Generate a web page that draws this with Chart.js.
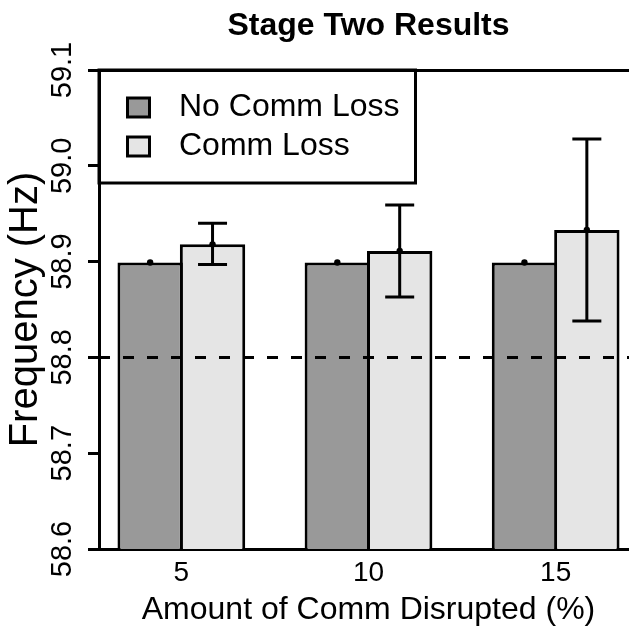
<!DOCTYPE html>
<html><head><meta charset="utf-8">
<script src="https://cdn.jsdelivr.net/npm/chart.js@4/dist/chart.umd.min.js"></script>
<style>
html,body{margin:0;padding:0;background:#fff;overflow:hidden;}
#wrap{width:629px;height:631px;overflow:hidden;position:relative;background:#fff;}
canvas{display:block;}
</style></head><body>
<div id="wrap"><canvas id="c" width="660" height="631"></canvas></div>
<script>
// ---- data ----
const categories = ['5', '10', '15'];
const seriesNames = ['No Comm Loss', 'Comm Loss'];
const noLossMean = [58.899, 58.899, 58.899];
const noLossLow  = [58.899, 58.899, 58.899];
const noLossHigh = [58.899, 58.899, 58.899];
const lossMean = [58.918, 58.911, 58.933];
const lossLow  = [58.897, 58.863, 58.838];
const lossHigh = [58.940, 58.959, 59.028];
const yTicks = [58.6, 58.7, 58.8, 58.9, 59.0, 59.1];
const refLine = 58.8;
const titleText = 'Stage Two Results';
const xTitle = 'Amount of Comm Disrupted (%)';
const yTitle = 'Frequency (Hz)';

// ---- styling / layout ----
const FONT = '"Liberation Sans", Arial, Helvetica, sans-serif';
const colors = ['#999999', '#e5e5e5'];
const groupX = categories.map((_, i) => 3 * i + 2); // barplot group centres (R units)
const X_MIN = 0.68, X_MAX = 9.32;

function makeMarker(color) {
  const c = document.createElement('canvas');
  c.width = 57; c.height = 26;
  const g = c.getContext('2d');
  g.fillStyle = color; g.fillRect(20, 2, 25, 22);
  g.lineWidth = 3; g.strokeStyle = '#000'; g.strokeRect(21.5, 3.5, 22, 19);
  return c;
}
const markers = colors.map(makeMarker);

const overlayPlugin = {
  id: 'overlay',
  afterLayout(chart) {
    const lg = chart.legend, area = chart.chartArea;
    if (lg) { lg.top = area.top; lg.bottom = area.bottom; lg.height = area.bottom - area.top; }
  },
  afterDatasetsDraw(chart) {
    const ctx = chart.ctx, area = chart.chartArea, ys = chart.scales.y;
    ctx.save();
    ctx.beginPath(); ctx.rect(area.left, area.top, area.right - area.left, area.bottom - area.top); ctx.clip();
    // reference line
    const yr = ys.getPixelForValue(refLine);
    ctx.setLineDash([11, 13]); ctx.lineWidth = 3; ctx.strokeStyle = '#000';
    ctx.beginPath(); ctx.moveTo(area.left, yr); ctx.lineTo(area.right, yr); ctx.stroke();
    ctx.setLineDash([]);
    // error bars + mean dots
    const sets = [[noLossMean, noLossLow, noLossHigh], [lossMean, lossLow, lossHigh]];
    sets.forEach(([m, lo, hi], di) => {
      chart.getDatasetMeta(di).data.forEach((el, j) => {
        const x = el.x;
        const ym = ys.getPixelForValue(m[j]);
        if (hi[j] > lo[j]) {
          const yl = ys.getPixelForValue(lo[j]), yh = ys.getPixelForValue(hi[j]);
          ctx.lineWidth = 3; ctx.strokeStyle = '#000';
          ctx.beginPath();
          ctx.moveTo(x, yl); ctx.lineTo(x, yh);
          ctx.moveTo(x - 14.5, yl); ctx.lineTo(x + 14.5, yl);
          ctx.moveTo(x - 14.5, yh); ctx.lineTo(x + 14.5, yh);
          ctx.stroke();
        }
        ctx.fillStyle = '#000';
        ctx.beginPath(); ctx.arc(x, ym, 3.2, 0, Math.PI * 2); ctx.fill();
      });
    });
    ctx.restore();
  },
  afterDraw(chart) {
    const lg = chart.legend; if (!lg || !lg.legendHitBoxes) return;
    const area = chart.chartArea, ctx = chart.ctx;
    let right = 0, bottom = 0;
    lg.legendHitBoxes.forEach(h => { right = Math.max(right, h.left + h.width); bottom = Math.max(bottom, h.top + h.height); });
    ctx.save();
    ctx.lineWidth = 3; ctx.strokeStyle = '#000';
    ctx.strokeRect(area.left, area.top, right + 16 - area.left, bottom + 20.5 - area.top);
    ctx.restore();
  }
};

new Chart(document.getElementById('c'), {
  type: 'bar',
  data: {
    datasets: [
      { label: seriesNames[0], data: noLossMean.map((v, i) => ({ x: groupX[i], y: v })),
        backgroundColor: colors[0], borderColor: '#000', borderWidth: 3, borderSkipped: false,
        categoryPercentage: 2 / 3, barPercentage: 1.048 },
      { label: seriesNames[1], data: lossMean.map((v, i) => ({ x: groupX[i], y: v })),
        backgroundColor: colors[1], borderColor: '#000', borderWidth: 3, borderSkipped: false,
        categoryPercentage: 2 / 3, barPercentage: 1.048 }
    ]
  },
  plugins: [overlayPlugin],
  options: {
    responsive: false, animation: false, events: [], devicePixelRatio: 1,
    layout: { padding: { left: 0, right: 22, top: 0, bottom: 0 } },
    scales: {
      x: {
        type: 'linear', position: 'bottom', min: X_MIN, max: X_MAX, offset: false, bounds: 'data',
        afterBuildTicks: s => { s.ticks = groupX.map(v => ({ value: v })); },
        afterFit: s => { s.height = 82; },
        grid: { display: false, drawTicks: false },
        border: { display: true, color: '#000', width: 3 },
        ticks: { autoSkip: false, maxRotation: 0, padding: 7, color: '#000',
          font: { family: FONT, size: 28 },
          callback: v => categories[groupX.indexOf(v)] },
        title: { display: true, text: xTitle, color: '#000', font: { family: FONT, size: 32 },
          padding: { top: 0, bottom: 2 } }
      },
      xTop: {
        type: 'linear', position: 'top', min: X_MIN, max: X_MAX, offset: false,
        afterFit: s => { s.height = 0; },
        grid: { display: false, drawTicks: false },
        ticks: { display: false },
        border: { display: true, color: '#000', width: 3 }
      },
      y: {
        type: 'linear', position: 'left', min: 58.6, max: 59.1, beginAtZero: false,
        afterBuildTicks: s => { s.ticks = yTicks.map(v => ({ value: v })); },
        afterFit: s => { s.width = 99; },
        grid: { display: true, drawOnChartArea: false, drawTicks: true, tickLength: 11, color: '#000', lineWidth: 3 },
        border: { display: true, color: '#000', width: 3 },
        ticks: { autoSkip: false, minRotation: 90, maxRotation: 90, crossAlign: 'center', padding: -3,
          color: '#000', font: { family: FONT, size: 29 }, callback: v => Number(v).toFixed(1) },
        title: { display: true, text: yTitle, color: '#000', font: { family: FONT, size: 40 },
          padding: { top: 2, bottom: 0 } }
      }
    },
    plugins: {
      tooltip: { enabled: false },
      title: { display: true, fullSize: false, text: titleText, color: '#000',
        font: { family: FONT, size: 32, weight: 'bold' }, padding: { top: 7, bottom: 24.6 } },
      legend: {
        position: 'chartArea', align: 'start',
        title: { display: true, text: ' ', font: { size: 10 }, padding: { top: 2.5, bottom: 0 } },
        labels: {
          usePointStyle: true, pointStyleWidth: 57, padding: 7, color: '#000',
          font: { family: FONT, size: 32 },
          generateLabels: chart => chart.data.datasets.map((ds, i) => ({
            text: ds.label, pointStyle: markers[i], fillStyle: ds.backgroundColor,
            strokeStyle: '#000', lineWidth: 0, hidden: false, datasetIndex: i, fontColor: '#000'
          }))
        }
      }
    }
  }
});
</script>
</body></html>
